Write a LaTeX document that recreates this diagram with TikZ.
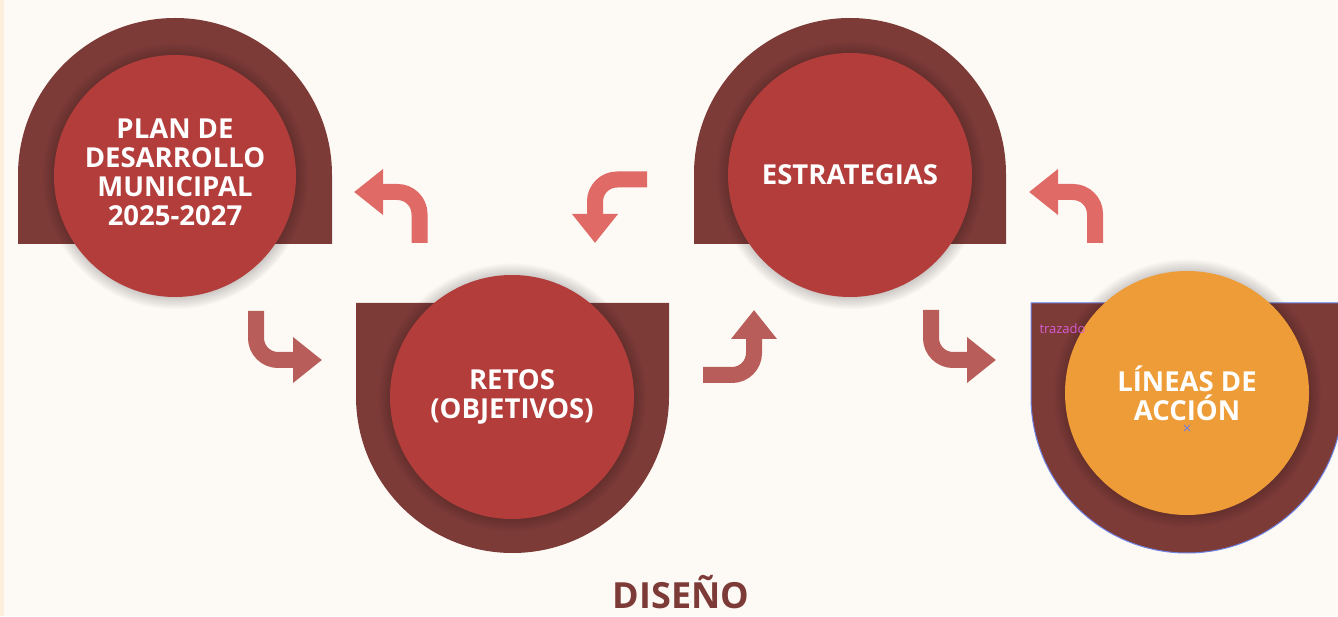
\documentclass[tikz,border=0pt]{standalone}
\usepackage{fontspec}
\setmainfont{Open Sans}
\usepackage{tikz}
\usetikzlibrary{arrows.meta,shadows}

\definecolor{paper}{HTML}{FDFAF6}
\definecolor{edgeorange}{HTML}{FCEEDC}
\definecolor{shelldark}{HTML}{7D3B38}
\definecolor{discred}{HTML}{B33D3B}
\definecolor{discorange}{HTML}{EE9C38}
\definecolor{arrowlight}{HTML}{E06B66}
\definecolor{arrowdark}{HTML}{B95D5A}
\definecolor{selblue}{HTML}{6F82E4}
\definecolor{tagpink}{HTML}{D95BD0}

\begin{document}
\begin{tikzpicture}[
  x=1pt,y=1pt,
  shell/.style={fill=shelldark},
  disc/.style={circle,fill=discred,inner sep=0pt,align=center,text=white,
               font=\fontsize{27.5}{29}\selectfont\bfseries,
               circular glow={fill=black,opacity=0.3,shadow scale=1.1}},
  turn/.style={line width=16pt,-{Triangle[length=29pt,width=44pt]},
               rounded corners=22pt},
  upturn/.style={turn,draw=arrowlight},
  downturn/.style={turn,draw=arrowdark}
]
\useasboundingbox (0,0) rectangle (1338,616);
\clip (0,0) rectangle (1338,616);
\fill[paper] (0,0) rectangle (1338,616);
\fill[edgeorange] (0,0) rectangle (4,616);

% half-round backings
\fill[shell] (18,372) -- (18,441) arc[start angle=180,end angle=0,radius=157]
  -- (332,372) -- cycle;
\fill[shell] (356,313) -- (356,219.5) arc[start angle=180,end angle=360,radius=156.5]
  -- (669,313) -- cycle;
\fill[shell] (694,372) -- (694,442) arc[start angle=180,end angle=0,radius=156]
  -- (1006,372) -- cycle;
\path[shell,draw=selblue,line width=1pt] (1031,313) -- (1031,219)
  arc[start angle=180,end angle=360,radius=156] -- (1343,313) -- cycle;

% turning arrows
\draw[downturn] (256,305) |- (322,256);
\draw[upturn] (419.5,373) |- (354,424);
\draw[upturn] (647,436.5) -| (595,373);
\draw[downturn] (703,241) -| (754,306);
\draw[downturn] (931,306) |- (996,256);
\draw[upturn] (1095,373) |- (1029,424);

% discs
\node[disc,minimum size=242pt] (plan) at (175,440) {};
\node[font=\fontsize{27.5}{29}\selectfont\bfseries,text=white,align=center]
  (plantext) at (175,444) {PLAN DE\\DESARROLLO\\MUNICIPAL\\2025-2027};
\node[disc,minimum size=244pt] (retos) at (512,219) {RETOS\\(OBJETIVOS)};
\node[disc,minimum size=244pt] (estrategias) at (850,441) {ESTRATEGIAS};
\node[disc,minimum size=244pt,fill=discorange] (lineas) at (1187,223)
  {LÍNEAS DE\\ACCIÓN};

\node[font=\fontsize{13}{15}\selectfont,text=tagpink,anchor=west] (trazado)
  at (1036,287) {trazado};
\draw[selblue,line width=1pt] (1184,185) -- (1190,191) (1184,191) -- (1190,185);

\node[font=\fontsize{36}{40}\selectfont\bfseries,text=shelldark] (diseno)
  at (681,24) {DISEÑO};
\end{tikzpicture}
\end{document}
